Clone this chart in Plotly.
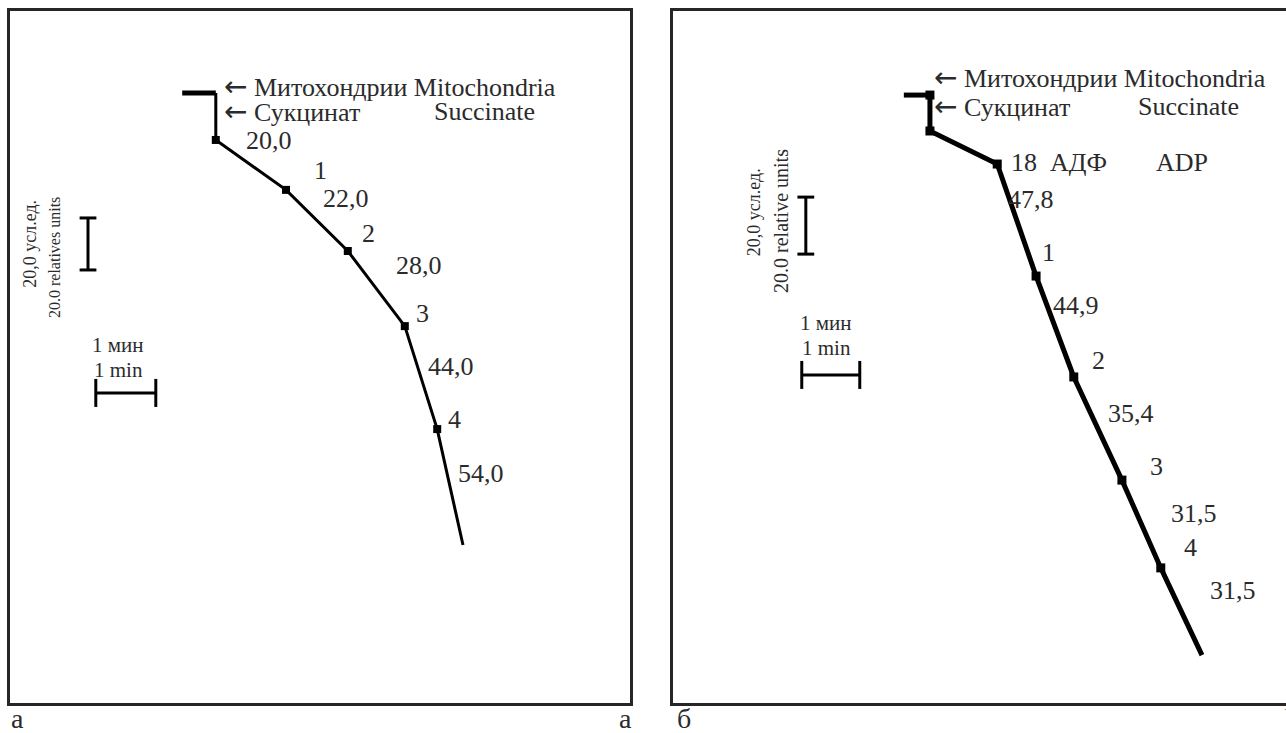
import plotly.graph_objects as go

# ---- data (time in min, signal in relative units; y grows downward = O2 consumed) ----
a_time = [2.87, 3.43, 3.43, 4.60, 5.63, 6.58, 7.12, 7.55]
a_sig = [31.5, 31.5, 49.6, 68.8, 92.3, 121.2, 160.8, 205.4]
a_marks_t = [3.43, 4.60, 5.63, 6.58, 7.12]
a_marks_s = [49.6, 68.8, 92.3, 121.2, 160.8]
a_rates = ["20,0", "22,0", "28,0", "44,0", "54,0"]
a_rate_t = [4.32, 5.60, 6.82, 7.35, 7.85]
a_rate_s = [50.0, 72.3, 97.7, 136.9, 177.7]
a_add = ["1", "2", "3", "4"]
a_add_t = [5.18, 5.98, 6.87, 7.40]
a_add_s = [61.2, 85.4, 116.2, 157.3]

b_time = [3.98, 4.43, 4.43, 5.59, 6.26, 6.91, 7.74, 8.41, 9.12]
b_sig = [29.5, 29.5, 42.1, 53.7, 93.0, 128.4, 164.6, 195.4, 226.0]
b_marks_t = [4.43, 4.43, 5.59, 6.26, 6.91, 7.74, 8.41]
b_marks_s = [29.5, 42.1, 53.7, 93.0, 128.4, 164.6, 195.4]
b_rates = ["47,8", "44,9", "35,4", "31,5", "31,5"]
b_rate_t = [6.17, 6.95, 7.90, 8.98, 9.66]
b_rate_s = [66.3, 103.5, 141.4, 176.2, 203.2]
b_add = ["1", "2", "3", "4"]
b_add_t = [6.48, 7.34, 8.33, 8.93]
b_add_s = [84.9, 122.5, 160.0, 188.4]

FONT = "Liberation Serif"
TXT = "#2b2b2b"
ARROW = '<span style="font-family:DejaVu Sans;font-size:28px">←</span> '

fig = go.Figure()

def trace_panel(xa, ya, t, s, mt, ms, width, msize):
    fig.add_trace(go.Scatter(x=t[:2], y=s[:2], mode="lines", line=dict(color="black", width=5),
                             xaxis=xa, yaxis=ya, showlegend=False, hoverinfo="skip"))
    fig.add_trace(go.Scatter(x=t[1:], y=s[1:], mode="lines", line=dict(color="black", width=width),
                             xaxis=xa, yaxis=ya, showlegend=False, hoverinfo="skip"))
    fig.add_trace(go.Scatter(x=mt, y=ms, mode="markers", marker=dict(symbol="square", size=msize, color="black"),
                             xaxis=xa, yaxis=ya, showlegend=False, hoverinfo="skip"))

trace_panel("x", "y", a_time, a_sig, a_marks_t, a_marks_s, 3, 8)
trace_panel("x2", "y2", b_time, b_sig, b_marks_t, b_marks_s, 5, 9)

# scale bars: 20 units vertical, 1 min horizontal
def scale_bars(xa, ya, vx, vy0, hx0, hy):
    fig.add_trace(go.Scatter(x=[vx, vx], y=[vy0, vy0 + 20], mode="lines+markers",
                             line=dict(color="black", width=3),
                             marker=dict(symbol="line-ew", size=12, line=dict(width=3, color="black")),
                             xaxis=xa, yaxis=ya, showlegend=False, hoverinfo="skip"))
    fig.add_trace(go.Scatter(x=[hx0, hx0 + 1], y=[hy, hy], mode="lines+markers",
                             line=dict(color="black", width=3),
                             marker=dict(symbol="line-ns", size=20, line=dict(width=3, color="black")),
                             xaxis=xa, yaxis=ya, showlegend=False, hoverinfo="skip"))

scale_bars("x", "y", 1.30, 79.6, 1.43, 146.9)
scale_bars("x2", "y2", 2.29, 65.3, 2.22, 127.7)

ann = []
def A(xr, yr, x, y, text, size=26, anchor="center", angle=0):
    ann.append(dict(xref=xr, yref=yr, x=x, y=y, text=text, showarrow=False, xanchor=anchor,
                    yanchor="middle", textangle=angle, font=dict(family=FONT, size=size, color=TXT)))

for lab, t, s in zip(a_rates, a_rate_t, a_rate_s):
    A("x", "y", t, s, lab)
for lab, t, s in zip(a_add, a_add_t, a_add_s):
    A("x", "y", t, s, lab)
for lab, t, s in zip(b_rates, b_rate_t, b_rate_s):
    A("x2", "y2", t, s, lab)
for lab, t, s in zip(b_add, b_add_t, b_add_s):
    A("x2", "y2", t, s, lab)

# headers
A("x", "y", 3.53, 29.2, ARROW + "Митохондрии Mitochondria", anchor="left")
A("x", "y", 3.53, 38.5, ARROW + "Сукцинат", anchor="left")
A("x", "y", 7.03, 38.5, "Succinate", anchor="left")
A("x2", "y2", 4.47, 23.5, ARROW + "Митохондрии Mitochondria", anchor="left")
A("x2", "y2", 4.47, 33.4, ARROW + "Сукцинат", anchor="left")
A("x2", "y2", 7.98, 33.4, "Succinate", anchor="left")
A("x2", "y2", 5.80, 53.0, "18  АДФ", anchor="left")
A("x2", "y2", 8.30, 53.0, "ADP", anchor="left")

# scale bar labels
A("x", "y", 0.33, 89.6, "20,0 усл.ед.", size=18, angle=-90)
A("x", "y", 0.75, 95.0, "20.0 relatives units", size=16, angle=-90)
A("x", "y", 1.80, 128.5, "1 мин", size=21)
A("x", "y", 1.80, 138.0, "1 min", size=21)
A("x2", "y2", 1.40, 70.5, "20,0 усл.ед.", size=18, angle=-90)
A("x2", "y2", 1.86, 73.7, "20.0 relative units", size=20, angle=-90)
A("x2", "y2", 2.64, 109.5, "1 мин", size=21)
A("x2", "y2", 2.64, 118.3, "1 min", size=21)

# panel letters
for x, t, anc in [(0.007, "а", "left"), (0.493, "а", "right"), (0.525, "б", "left"), (0.9975, "b", "left")]:
    ann.append(dict(xref="paper", yref="paper", x=x, y=0.02, text=t, showarrow=False, xanchor=anc,
                    yanchor="middle", font=dict(family=FONT, size=28, color=TXT)))

W, H = 1286, 733
y_dom = [(H - 703) / H, (H - 11) / H]
ax_common = dict(showgrid=False, zeroline=False, showticklabels=False, ticks="",
                 showline=True, linecolor="#262626", linewidth=3)

fig.update_layout(
    width=W, height=H, margin=dict(l=0, r=0, t=0, b=0),
    paper_bgcolor="white", plot_bgcolor="white",
    xaxis=dict(domain=[10 / W, 630 / W], range=[0, 620 / 60], mirror=True, **ax_common),
    yaxis=dict(domain=y_dom, range=[692 / 52 * 20, 0], mirror=True, anchor="x", **ax_common),
    xaxis2=dict(domain=[673 / W, 1.0], range=[0, 613 / 58], mirror=True, anchor="y2", **ax_common),
    yaxis2=dict(domain=y_dom, range=[692 / 57 * 20, 0], mirror=False, anchor="x2", **ax_common),
    annotations=ann,
)

fig.write_html("out.html", config={"displayModeBar": False},
               post_script="document.body.style.margin='0px';document.body.style.overflow='hidden';")
